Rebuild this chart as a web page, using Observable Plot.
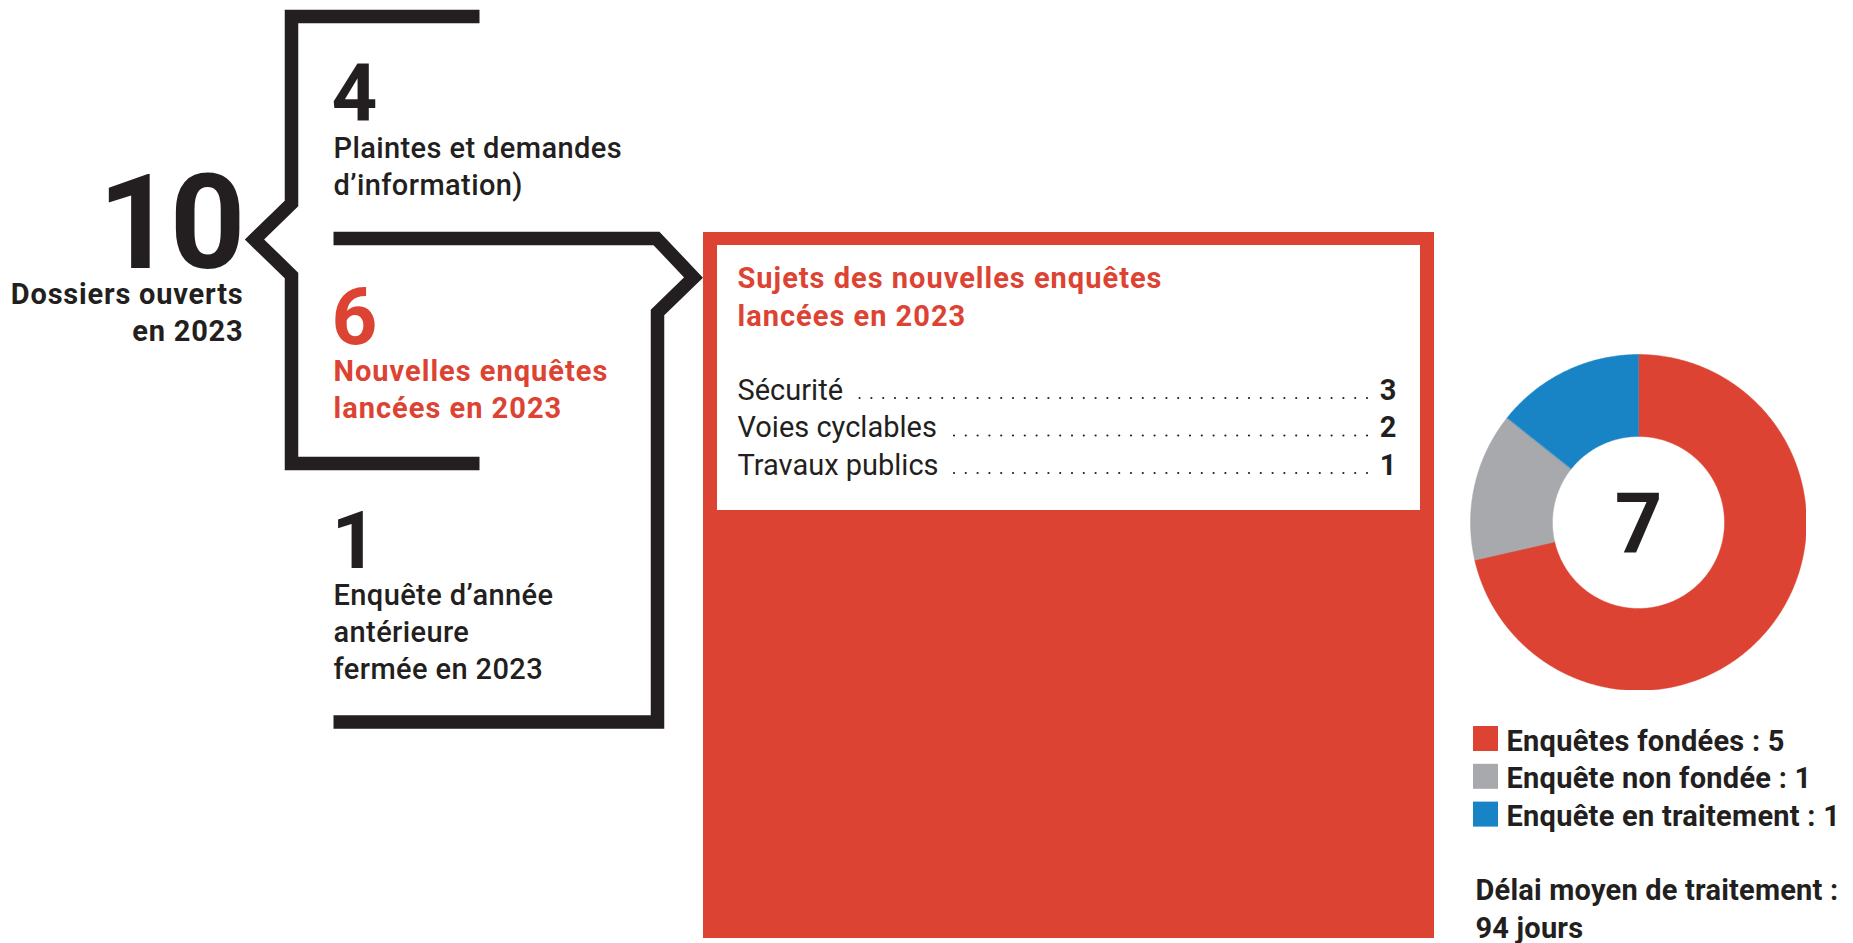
<!DOCTYPE html>
<html><head><meta charset="utf-8">
<script src="https://cdn.jsdelivr.net/npm/d3@7"></script>
<script src="https://cdn.jsdelivr.net/npm/@observablehq/plot@0.6"></script>
<style>
html,body{margin:0;padding:0;background:#fff;}
#root{position:relative;width:1853px;height:943px;overflow:hidden;font-family:Roboto,sans-serif;background:#fff;}
#root > svg{position:absolute;}
</style></head><body><div id="root"></div>
<script>
// ---------------- data ----------------
const totalOpened = 10;
const openedLabel = ["Dossiers ouverts", "en 2023"];
const breakdownValues = [4, 6, 1];
const breakdownLabels = [
  ["Plaintes et demandes", "d’information)"],
  ["Nouvelles enquêtes", "lancées en 2023"],
  ["Enquête d’année", "antérieure", "fermée en 2023"]
];
const subjectTitle = ["Sujets des nouvelles enquêtes", "lancées en 2023"];
const subjects = ["Sécurité", "Voies cyclables", "Travaux publics"];
const subjectCounts = [3, 2, 1];
const outcomeLabels = ["Enquêtes fondées", "Enquête non fondée", "Enquête en traitement"];
const outcomeValues = [5, 1, 1];
const outcomeColors = ["#dc4333", "#a7a9ac", "#1884c6"];
const delayLabel = "Délai moyen de traitement :";
const delayDays = 94;

// ---------------- layout ----------------
const W = 1853, H = 943;
const DARK = "#231f20", RED = "#dc4333";
const FONT = "Roboto";
const root = document.getElementById("root");

const measure = (() => {
  const ctx = document.createElement("canvas").getContext("2d");
  return (txt, weight, size) => { ctx.font = `${weight} ${size}px ${FONT}`; return ctx.measureText(txt).width; };
})();

// bracket outlines (decoration)
const bracketTop = [[479,16],[291,16],[291,203],[254,239],[291,275],[291,463],[479,463]].map(([x,y])=>({x,y}));
const bracketMid = [[333,238],[656,238],[693,277],[657,312],[657,721.5],[333,721.5]].map(([x,y])=>({x,y}));

// text rows
const texts = [];
const add = (text, x, y, o = {}) => texts.push({text, x, y, size: 29, weight: 500, fill: DARK, anchor: "start", ls: 0, ...o});

add(String(totalOpened), 241, 267, {size: 132, weight: 700, anchor: "end", ls: -4});
openedLabel.forEach((t, i) => add(t, 243, 303 + i * 37, {weight: 700, anchor: "end", ls: 0.8}));

const blockNumBase = [119, 343, 567];
const blockLabelBase = [157, 380, 604];
const blockColor = [DARK, RED, DARK];
const blockWeight = [500, 700, 500];
const blockLs = [0.4, 1, 0.4];
breakdownValues.forEach((v, i) => {
  add(String(v), 331, blockNumBase[i], {size: 80, weight: 700, fill: blockColor[i]});
  breakdownLabels[i].forEach((t, j) => add(t, 333, blockLabelBase[i] + j * 37, {weight: blockWeight[i], fill: blockColor[i], ls: blockLs[i]}));
});

subjectTitle.forEach((t, i) => add(t, 737, 287 + i * 38, {weight: 700, fill: RED, ls: 1}));
const rowBase = 399, rowGap = 37.5, labelX = 737, valueX = 1396, leaderEnd = 1367;
const leaders = [];
subjects.forEach((s, i) => {
  const y = rowBase + i * rowGap;
  add(s, labelX, y, {weight: 400});
  add(String(subjectCounts[i]), valueX, y, {weight: 700, anchor: "end"});
  leaders.push({x1: leaderEnd, x2: labelX + measure(s, 400, 29) + 10, y: y - 1.5});
});

// legend
const legX = 1473, legBase = 750, legGap = 37.8;
const legendRects = outcomeLabels.map((l, i) => ({x1: legX, x2: legX + 25, y1: legBase - 24 + i * legGap, y2: legBase + 1 + i * legGap, c: outcomeColors[i]}));
outcomeLabels.forEach((l, i) => add(`${l} : ${outcomeValues[i]}`, legX + 33, legBase + i * legGap, {weight: 700, ls: 0.25}));
add(delayLabel, 1475, 899, {weight: 700, ls: 0.2});
add(`${delayDays} jours`, 1475, 937, {weight: 700, ls: 0.2});

const textGroups = d3.groups(texts, d => `${d.anchor}|${d.weight}|${d.ls}`);

const main = Plot.plot({
  width: W, height: H, margin: 0,
  x: {domain: [0, W], range: [0, W], axis: null},
  y: {domain: [0, H], range: [0, H], axis: null},
  style: {fontFamily: FONT, background: "transparent"},
  marks: [
    Plot.rect([{x1: 703, x2: 1434, y1: 232, y2: 938}], {x1: "x1", x2: "x2", y1: "y1", y2: "y2", fill: RED}),
    Plot.rect([{x1: 717, x2: 1420, y1: 245, y2: 510}], {x1: "x1", x2: "x2", y1: "y1", y2: "y2", fill: "#fff"}),
    Plot.line(bracketTop, {x: "x", y: "y", stroke: DARK, strokeWidth: 13.5, strokeLinejoin: "miter", strokeLinecap: "butt", strokeMiterlimit: 10}),
    Plot.line(bracketMid, {x: "x", y: "y", stroke: DARK, strokeWidth: 13.5, strokeLinejoin: "miter", strokeLinecap: "butt", strokeMiterlimit: 10}),
    Plot.ruleY(leaders, {y: "y", x1: "x1", x2: "x2", stroke: DARK, strokeWidth: 2.2, strokeLinecap: "round", strokeDasharray: "0,11.8"}),
    Plot.rect(legendRects, {x1: "x1", x2: "x2", y1: "y1", y2: "y2", fill: d => d.c}),
    ...textGroups.map(([key, rows]) => {
      const [a, w, ls] = key.split("|");
      return Plot.text(rows, {
        x: "x", y: "y", text: "text", textAnchor: a, lineAnchor: "bottom",
        fontFamily: FONT, fontWeight: +w, fill: d => d.fill, fontSize: d => d.size,
        ariaDescription: "ls" + ls
      });
    })
  ]
});
// apply letter spacing per text group
d3.select(main).selectAll("g[aria-description]").each(function() {
  const ls = parseFloat(this.getAttribute("aria-description").slice(2));
  if (ls) this.setAttribute("letter-spacing", ls);
});
main.style.left = "0px"; main.style.top = "0px";
root.appendChild(main);

// ---------------- donut ----------------
const pie = d3.pie().sort(null).value(d => d)(outcomeValues);
const R1 = 1, R0 = 0.512;
const arcPts = pie.flatMap((p, i) => {
  const n = Math.max(12, Math.ceil((p.endAngle - p.startAngle) / 0.01));
  const angs = d3.range(n + 1).map(k => p.startAngle + (p.endAngle - p.startAngle) * k / n);
  return [
    ...angs.map(a => ({slice: outcomeLabels[i], x: R1 * Math.sin(a), y: R1 * Math.cos(a)})),
    ...angs.slice().reverse().map(a => ({slice: outcomeLabels[i], x: R0 * Math.sin(a), y: R0 * Math.cos(a)}))
  ];
});
const donut = Plot.plot({
  width: 336, height: 336, margin: 0,
  x: {domain: [-1, 1], axis: null},
  y: {domain: [-1, 1], axis: null},
  color: {domain: outcomeLabels, range: outcomeColors},
  style: {fontFamily: FONT, background: "transparent"},
  marks: [
    Plot.line(arcPts, {x: "x", y: "y", z: "slice", fill: "slice", stroke: "slice", strokeWidth: 0.5, curve: "linear-closed"}),
    Plot.text([d3.sum(outcomeValues)], {x: 0, y: 0, text: d => String(d), fontSize: 83, fontWeight: 700, fill: DARK, fontFamily: FONT, lineAnchor: "middle", dy: 3})
  ]
});
donut.style.left = "1470px"; donut.style.top = "354px";
root.appendChild(donut);
</script>
</body></html>
